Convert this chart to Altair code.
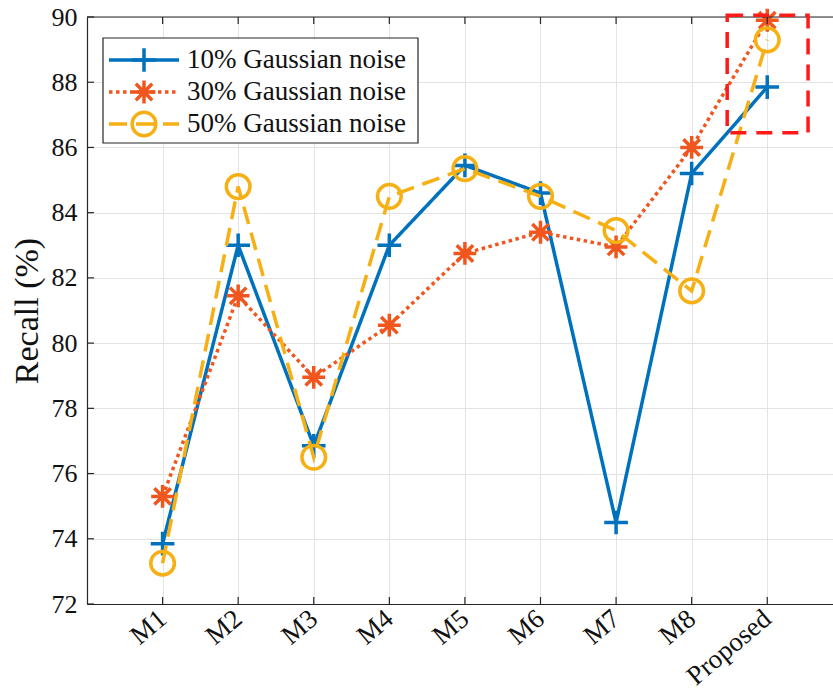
import altair as alt
import pandas as pd

# ---- data ----
categories = ["M1", "M2", "M3", "M4", "M5", "M6", "M7", "M8", "Proposed"]
positions = [1, 2, 3, 4, 5, 6, 7, 8, 9]
noise10 = [73.85, 83.0, 76.85, 83.0, 85.45, 84.6, 74.5, 85.2, 87.85]
noise30 = [75.3, 81.45, 78.95, 80.55, 82.75, 83.4, 82.95, 86.0, 89.9]
noise50 = [73.25, 84.8, 76.5, 84.5, 85.35, 84.5, 83.45, 81.6, 89.3]
series_names = ["10% Gaussian noise", "30% Gaussian noise", "50% Gaussian noise"]
y_ticks = [72, 74, 76, 78, 80, 82, 84, 86, 88, 90]
box_x = [8.47, 9.54]
box_y = [86.45, 90.05]

# ---- styles ----
colors = ["#0072BD", "#F0561D", "#F6B014"]
dashes = [[1, 0], [3.5, 3.5], [18, 9]]
shapes = [
    "M-1,0L1,0M0,-1L0,1",
    "M-1,0L1,0M0,-1L0,1M-0.72,-0.72L0.72,0.72M-0.72,0.72L0.72,-0.72",
    "circle",
]
sizes = [560, 520, 560]
FONT = "Liberation Serif"
W, H = 746, 587

rows = []
for name, vals in zip(series_names, [noise10, noise30, noise50]):
    for p, c, v in zip(positions, categories, vals):
        rows.append({"x": p, "cat": c, "value": v, "series": name})
df = pd.DataFrame(rows)

label_js = "[" + ",".join("'%s'" % c for c in categories) + "][datum.value - 1]"

X = alt.X(
    "x:Q",
    scale=alt.Scale(domain=[0, 9.87], nice=False, zero=False),
    axis=alt.Axis(
        values=positions, labelExpr=label_js, title=None, grid=True, ticks=False,
        gridColor="#e3e3e3", gridWidth=1, domainColor="#262626", domainWidth=1.2,
        labelFont=FONT, labelFontSize=27, labelColor="#111111", labelOverlap=False,
        labelAngle=320, labelAlign="right", labelBaseline="middle", labelPadding=11,
    ),
)
Y = alt.Y(
    "value:Q",
    scale=alt.Scale(domain=[72, 90], nice=False, zero=False),
    axis=alt.Axis(
        values=y_ticks, title="Recall (%)", grid=True, ticks=False,
        gridColor="#e3e3e3", gridWidth=1, domainColor="#262626", domainWidth=1.2,
        labelFont=FONT, labelFontSize=26, labelColor="#111111", labelPadding=10,
        labelOverlap=False,
        titleFont=FONT, titleFontSize=34, titleFontWeight="normal", titleColor="#111111",
        titlePadding=7,
    ),
)

base = alt.Chart(df)
layers = []
for i, name in enumerate(series_names):
    sub = base.transform_filter(alt.datum.series == name)
    layers.append(
        sub.mark_line(color=colors[i], strokeWidth=3.5, strokeDash=dashes[i], strokeCap="butt")
        .encode(x=X, y=Y)
    )
    layers.append(
        sub.mark_point(shape=shapes[i], filled=False, size=sizes[i], strokeWidth=3.5,
                       color=colors[i], opacity=1)
        .encode(x=X, y=Y)
    )

# inward ticks and top border
tick_y_df = pd.DataFrame({"value": y_ticks})
tick_x_df = pd.DataFrame({"x": positions})
ticks_left = alt.Chart(tick_y_df).mark_rule(color="#262626", strokeWidth=1.2).encode(
    y=alt.Y("value:Q"), x=alt.value(0), x2=alt.value(7))
ticks_bottom = alt.Chart(tick_x_df).mark_rule(color="#262626", strokeWidth=1.2).encode(
    x=alt.X("x:Q"), y=alt.value(H), y2=alt.value(H - 7))
ticks_top = alt.Chart(tick_x_df).mark_rule(color="#262626", strokeWidth=1.2).encode(
    x=alt.X("x:Q"), y=alt.value(0), y2=alt.value(7))
top_border = alt.Chart(tick_x_df.head(1)).mark_rule(color="#262626", strokeWidth=1.2).encode(
    x=alt.value(0), x2=alt.value(W), y=alt.value(0))

# red dashed highlight box
box_df = pd.DataFrame({"x": [box_x[0]], "x2": [box_x[1]], "value": [box_y[0]], "value2": [box_y[1]]})
red_box = alt.Chart(box_df).mark_rect(
    filled=False, stroke="#FF1A1A", strokeWidth=3.5, strokeDash=[16, 10], fillOpacity=0
).encode(x=alt.X("x:Q"), x2="x2:Q", y=alt.Y("value:Q"), y2="value2:Q")

# manual legend
leg_df = pd.DataFrame({"series": series_names})
row_y = [43, 75, 107]
legend_layers = [
    alt.Chart(leg_df.head(1)).mark_rect(fill="white", stroke="#262626", strokeWidth=1.2).encode(
        x=alt.value(16), x2=alt.value(331), y=alt.value(21), y2=alt.value(126))
]
for i, name in enumerate(series_names):
    ls = alt.Chart(leg_df).transform_filter(alt.datum.series == name)
    legend_layers.append(
        ls.mark_rule(color=colors[i], strokeWidth=3.5, strokeDash=dashes[i], strokeCap="butt").encode(
            x=alt.value(22), x2=alt.value(92), y=alt.value(row_y[i]))
    )
    legend_layers.append(
        ls.mark_point(shape=shapes[i], filled=False, size=sizes[i], strokeWidth=3.5,
                      color=colors[i], opacity=1).encode(x=alt.value(57), y=alt.value(row_y[i]))
    )
    legend_layers.append(
        ls.mark_text(align="left", baseline="middle", font=FONT, fontSize=27, color="#111111").encode(
            x=alt.value(100), y=alt.value(row_y[i]), text="series:N")
    )

chart = alt.layer(
    *layers, ticks_left, ticks_bottom, ticks_top, top_border, red_box, *legend_layers
).properties(
    width=W, height=H,
    padding={"left": 87, "top": 17, "right": 0, "bottom": 89},
    autosize=alt.AutoSizeParams(type="none"),
).configure_view(stroke=None).configure(background="white")

chart.save("out.html", embed_options={"renderer": "svg", "actions": False})
